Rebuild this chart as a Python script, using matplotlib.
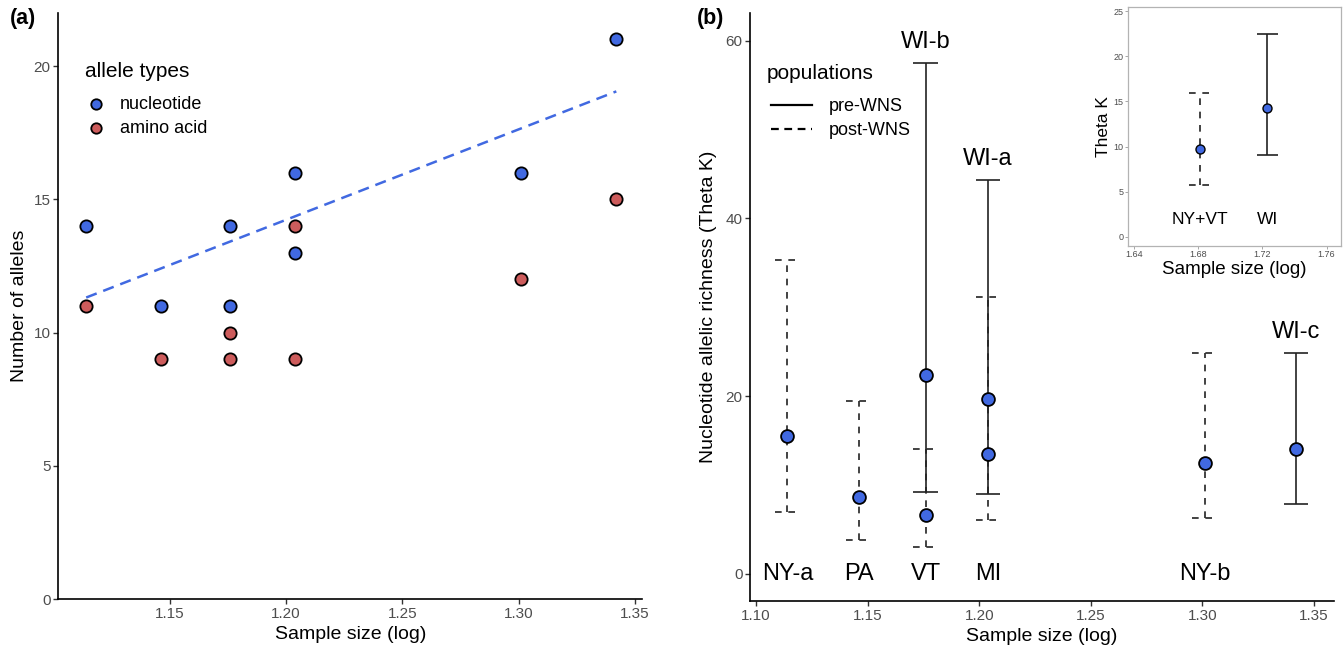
import matplotlib
matplotlib.use("Agg")
import matplotlib.pyplot as plt
from matplotlib.lines import Line2D
import numpy as np

plt.rcParams["font.family"] = ["Liberation Sans", "DejaVu Sans"]

# ---- panel (a): allele counts per population ----
sample_log = [1.114, 1.146, 1.176, 1.176, 1.204, 1.204, 1.301, 1.342]
nucleotide = [14, 11, 14, 11, 16, 13, 16, 21]
amino_acid = [11, 9, 10, 9, 14, 9, 12, 15]

# ---- panel (b): Theta K estimates with confidence intervals ----
pops = ["NY-a", "PA", "WI-b", "VT", "WI-a", "MI", "NY-b", "WI-c"]
pop_log = [1.114, 1.146, 1.176, 1.176, 1.204, 1.204, 1.301, 1.342]
theta = [15.5, 8.6, 22.4, 6.6, 19.7, 13.5, 12.5, 14.0]
theta_lo = [6.9, 3.8, 9.2, 3.0, 9.0, 6.0, 6.3, 7.8]
theta_hi = [35.3, 19.4, 57.5, 14.1, 44.3, 31.2, 24.9, 24.8]
status = ["post", "post", "pre", "post", "pre", "post", "post", "pre"]

# ---- inset: pooled populations ----
inset_pops = ["NY+VT", "WI"]
inset_log = [1.681, 1.723]
inset_theta = [9.7, 14.3]
inset_lo = [5.75, 9.03]
inset_hi = [15.9, 22.5]
inset_status = ["post", "pre"]

BLUE = "#4169E1"
RED = "#CD5C5C"
TICK_GREY = "#4d4d4d"
DASH = (0, (4, 4))


def style_axis(ax, label_size=11):
    for side in ("top", "right"):
        ax.spines[side].set_visible(False)
    for side in ("left", "bottom"):
        ax.spines[side].set_linewidth(1.2)
        ax.spines[side].set_color("black")
    ax.tick_params(length=3.5, width=1.0, color="#333333",
                   labelcolor=TICK_GREY, labelsize=label_size, pad=2)


def draw_ci(ax, xs, lo, hi, kinds, half_w, lw):
    for x, a, b, k in zip(xs, lo, hi, kinds):
        ls = "-" if k == "pre" else DASH
        ax.vlines(x, a, b, colors="#222222", linestyles=ls, linewidth=lw, zorder=2)
        ax.hlines([a, b], x - half_w, x + half_w, colors="#222222",
                  linestyles=ls, linewidth=lw, zorder=2)


fig = plt.figure(figsize=(13.43, 6.5), dpi=100)

# ================= panel (a) =================
ax_a = fig.add_axes([0.0434, 0.078, 0.4349, 0.9025])
ax_a.scatter(sample_log, nucleotide, s=78, color=BLUE, edgecolor="black",
             linewidth=1.3, zorder=3, label="nucleotide")
ax_a.scatter(sample_log, amino_acid, s=78, color=RED, edgecolor="black",
             linewidth=1.3, zorder=3, label="amino acid")

slope, icept = np.polyfit(sample_log, nucleotide, 1)
xfit = np.array([min(sample_log), max(sample_log)])
ax_a.plot(xfit, slope * xfit + icept, color=BLUE, linewidth=1.8,
          linestyle=(0, (4.5, 2.8)), zorder=2)

ax_a.set_xlim(1.102, 1.3532)
ax_a.set_ylim(0, 22.0)
ax_a.set_xticks([1.15, 1.20, 1.25, 1.30, 1.35])
ax_a.set_xticklabels(["1.15", "1.20", "1.25", "1.30", "1.35"])
ax_a.set_yticks([0, 5, 10, 15, 20])
style_axis(ax_a)
ax_a.set_xlabel("Sample size (log)", fontsize=14, labelpad=4)
ax_a.set_ylabel("Number of alleles", fontsize=14, labelpad=4)

ax_a.text(0.0457, 0.8994, "allele types", transform=ax_a.transAxes,
          fontsize=15, ha="left", va="center")
ax_a.legend(loc="upper left", bbox_to_anchor=(0.0491, 0.8582), frameon=False,
            fontsize=13, handlelength=1.0, handletextpad=0.83,
            labelspacing=0.4, borderpad=0, borderaxespad=0, markerscale=0.85)
fig.text(0.007, 0.972, "(a)", fontsize=15.5, fontweight="bold", va="center")

# ================= panel (b) =================
ax_b = fig.add_axes([0.5585, 0.0754, 0.4348, 0.9041])
draw_ci(ax_b, pop_log, theta_lo, theta_hi, status, 0.0055, 1.2)
ax_b.scatter(pop_log, theta, s=85, color=BLUE, edgecolor="black",
             linewidth=1.3, zorder=3)

for name, x, hi, k in zip(pops, pop_log, theta_hi, status):
    y = hi + 2.4 if k == "pre" else 0
    ax_b.text(x, y, name, fontsize=17, ha="center", va="center", zorder=4)

ax_b.set_xlim(1.0973, 1.359)
ax_b.set_ylim(-3.07, 63.1)
ax_b.set_xticks([1.10, 1.15, 1.20, 1.25, 1.30, 1.35])
ax_b.set_xticklabels(["1.10", "1.15", "1.20", "1.25", "1.30", "1.35"])
ax_b.set_yticks([0, 20, 40, 60])
style_axis(ax_b)
ax_b.set_xlabel("Sample size (log)", fontsize=14, labelpad=4)
ax_b.set_ylabel("Nucleotide allelic richness (Theta K)", fontsize=14, labelpad=6)

ax_b.text(0.0291, 0.8974, "populations", transform=ax_b.transAxes,
          fontsize=15, ha="left", va="center")
pop_handles = [Line2D([], [], color="black", linewidth=1.6, linestyle="-"),
               Line2D([], [], color="black", linewidth=1.6, linestyle=(0, (3.5, 2.5)))]
ax_b.legend(pop_handles, ["pre-WNS", "post-WNS"], loc="upper left",
            bbox_to_anchor=(0.036, 0.8557), frameon=False, fontsize=13,
            handlelength=2.28, handletextpad=0.89, labelspacing=0.4,
            borderpad=0, borderaxespad=0)
fig.text(0.519, 0.972, "(b)", fontsize=15.5, fontweight="bold", va="center")

# ================= inset =================
ax_in = fig.add_axes([0.8397, 0.6215, 0.1588, 0.3677])
draw_ci(ax_in, inset_log, inset_lo, inset_hi, inset_status, 0.0065, 1.2)
ax_in.scatter(inset_log, inset_theta, s=42, color=BLUE, edgecolor="black",
              linewidth=1.0, zorder=3)
for name, x in zip(inset_pops, inset_log):
    ax_in.text(x, 1.9, name, fontsize=12.5, ha="center", va="center")

ax_in.set_xlim(1.636, 1.769)
ax_in.set_ylim(-1.0, 25.45)
ax_in.set_xticks([1.64, 1.68, 1.72, 1.76])
ax_in.set_xticklabels(["1.64", "1.68", "1.72", "1.76"])
ax_in.set_yticks([0, 5, 10, 15, 20, 25])
for side in ax_in.spines.values():
    side.set_color("#b3b3b3")
    side.set_linewidth(0.9)
ax_in.tick_params(length=2, width=0.6, color="#999999",
                  labelcolor=TICK_GREY, labelsize=6.5, pad=1)
ax_in.set_xlabel("Sample size (log)", fontsize=13.5, labelpad=1)
ax_in.set_ylabel("Theta K", fontsize=12.5, labelpad=2)

fig.savefig("out.png", dpi=100)
